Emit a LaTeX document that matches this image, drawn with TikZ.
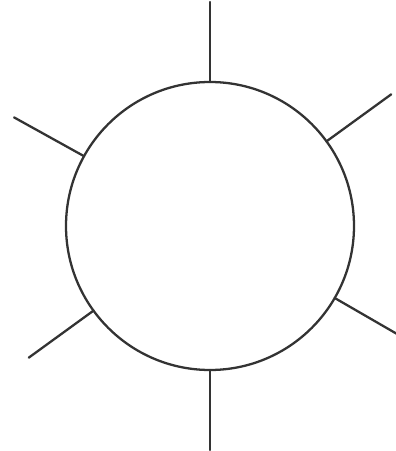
\documentclass[tikz,border=0pt]{standalone}
\usetikzlibrary{positioning}
\begin{document}
\begin{tikzpicture}[x=0.02cm, y=0.02cm, line join=round, line cap=round]
	\def\r{144} \def\len{80} % radius, spoke length
	\useasboundingbox (0,0) rectangle (396,451);
	\clip (0,0) rectangle (396,451);
	\node[draw=black!80, line width=1.3pt, circle, minimum size=2*\r*0.02cm, inner sep=0pt, outer sep=0pt] (ring) at (210,225) {};
	\foreach \t in {90,36,151,-30,216,270}
	\draw[black!80, line width=1.3pt] (ring.\t) -- ++(\t:\len) coordinate (end\t);
\end{tikzpicture}
\end{document}
